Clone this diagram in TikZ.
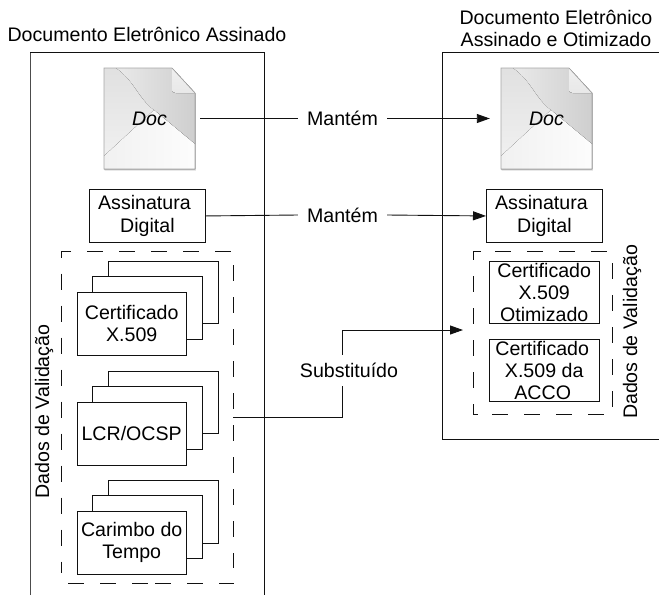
\documentclass[tikz,border=0pt]{standalone}
\usepackage{fontspec}
\setmainfont{Liberation Sans}
\usetikzlibrary{arrows.meta,calc}
\definecolor{linec}{HTML}{111111}
\tikzset{
  x=1pt,y=-1pt,
  txt/.style={font=\fontsize{19.6}{22.2}\selectfont,text=black,align=center,inner sep=0pt},
  outerbox/.style={draw=linec,line width=1pt},
  dashline/.style={draw=linec,line width=0.9pt,dash pattern=on 16pt off 16pt},
  card/.style={draw=linec,line width=0.9pt,fill=white,inner sep=0pt,anchor=north west,txt},
  conn/.style={draw=linec,line width=0.9pt},
  tip/.style={-{Triangle[length=13pt,width=9pt]}},
  lbl/.style={txt,inner xsep=9pt,inner ysep=3pt},
  docnode/.style={txt,minimum width=91pt,minimum height=101pt,font=\fontsize{19.6}{22.2}\selectfont\itshape},
}
\newcommand{\siglabel}{\raisebox{-2pt}{Assinatura}\hspace*{6pt}\\\raisebox{-2pt}{Digital}}
\newcommand{\docshape}[2]{%
  \begin{scope}[shift={(#1,#2)}]
    \fill[black!30,opacity=0.45] (0.5,1) -- (68.5,1) -- (91.8,26) -- (91.8,102.5) -- (0.5,102.5) -- cycle;
    \fill[top color=gray!24,bottom color=gray!10] (0,0) -- (68,0) -- (91,25) -- (91,101) -- (0,101) -- cycle;
    \fill[left color=gray!17,right color=gray!38] (12,0) -- (68,0) -- (91,25) -- (91,76) -- (50,42) .. controls (34,30) and (30,12) .. (12,0) -- cycle;
    \fill[left color=gray!11,right color=gray!2] (0,101) -- (91,101) -- (91,76) -- (50,42) -- (0,88) -- cycle;
    \fill[top color=gray!12,bottom color=gray!18] (68,0) -- (91,25) -- (72,25) .. controls (69,25) and (68,24) .. (68,21) -- cycle;
    \draw[gray!70,line width=0.7pt] (0,0) -- (68,0) -- (91,25) -- (91,101) -- (0,101) -- cycle;
  \end{scope}}
\begin{document}
\begin{tikzpicture}
\useasboundingbox (0,0) rectangle (659,595);
% outer frames
\draw[outerbox,draw=gray!60!black] (30,595) -- (30,52);
\draw[outerbox] (30,52) -- (264.5,52) -- (264.5,595);
\draw[outerbox] (659,52) -- (442.5,52) -- (442.5,439) -- (659,439);
\node[txt] (titleL) at (147,34.5) {Documento Eletrônico Assinado};
\node[txt] (titleR) at (556,28.5) {Documento Eletrônico\\Assinado e Otimizado};
% documents
\docshape{104}{68}
\docshape{501}{68}
\node[docnode] (docL) at (149.5,118.5) {Doc};
\node[docnode] (docR) at (546.5,118.5) {Doc};
% signatures
\node[card,minimum width=116pt,minimum height=53pt] (sigL) at (89,189) {\siglabel};
\node[card,minimum width=116pt,minimum height=53pt] (sigR) at (486,189) {\siglabel};
% dashed group, left
\draw[dashline] (71,251.5) -- (61,251.5) -- (61,573);
\draw[dashline] (87,251.5) -- (231,251.5);
\draw[dashline] (233,265) -- (233,568);
\draw[dashline] (68,583) -- (148,583);
\draw[dashline] (155,583) -- (233.5,583);
% dashed group, right
\draw[dashline] (481,251.5) -- (473.5,251.5) -- (473.5,414) -- (478,414);
\draw[dashline] (495,251.5) -- (609,251.5);
\draw[dashline] (492,414) -- (606,414);
\draw[dashline] (612,263) -- (612,407);
\coordinate (groupL) at (233,417);
% stacks
\node[card,minimum width=109.5pt,minimum height=62.5pt] (c3) at (108,260.5) {};
\node[card,minimum width=109.5pt,minimum height=62.5pt] (c2) at (92,276) {};
\node[card,minimum width=109.5pt,minimum height=62.5pt] (c1) at (76.5,292) {Certificado\\X.509};
\node[card,minimum width=109.5pt,minimum height=62.5pt] (l3) at (108,370.5) {};
\node[card,minimum width=109.5pt,minimum height=62.5pt] (l2) at (92,386) {};
\node[card,minimum width=109.5pt,minimum height=62.5pt] (l1) at (76.5,402) {LCR/OCSP};
\node[card,minimum width=109.5pt,minimum height=62.5pt] (t3) at (108,480) {};
\node[card,minimum width=109.5pt,minimum height=62.5pt] (t2) at (92,495) {};
\node[card,minimum width=109.5pt,minimum height=62.5pt] (t1) at (76.5,511) {Carimbo do\\Tempo};
% right boxes
\node[card,minimum width=109.5pt,minimum height=62.5pt] (opt) at (489,260.5) {Certificado\\X.509\\Otimizado};
\node[card,minimum width=109.5pt,minimum height=62.5pt] (acco) at (489,338.5) {Certificado\hspace*{4pt}\\X.509 da\hspace*{6pt}\\ACCO\hspace*{3pt}};
% rotated labels
\node[txt,rotate=90] (dvL) at (44,411.5) {Dados de Validação};
\node[txt,rotate=90] (dvR) at (632,332) {Dados de Validação};
% connector labels
\node[lbl] (m1) at (342.5,118.5) {Mantém};
\node[lbl] (m2) at (342.5,215) {Mantém};
\node[lbl,inner xsep=4pt,inner ysep=8pt] (sub) at (349,370.5) {Substituído};
\coordinate (subS) at ($(sub.south)+(-6.5,0)$);
\coordinate (subN) at ($(sub.north)+(-6.5,0)$);
\coordinate (groupR) at (463,330);
% connectors
\draw[conn,shorten <=5pt] (docL.east) -- (m1.west);
\draw[conn,tip,shorten >=11pt] (m1.east) -- (docR.west);
\draw[conn] (sigL.east) -- (m2.west);
\draw[conn,tip] (m2.east) -- (sigR.west);
\draw[conn] (groupL) -| (subS);
\draw[conn,tip] (subN) |- (groupR);
\end{tikzpicture}
\end{document}
